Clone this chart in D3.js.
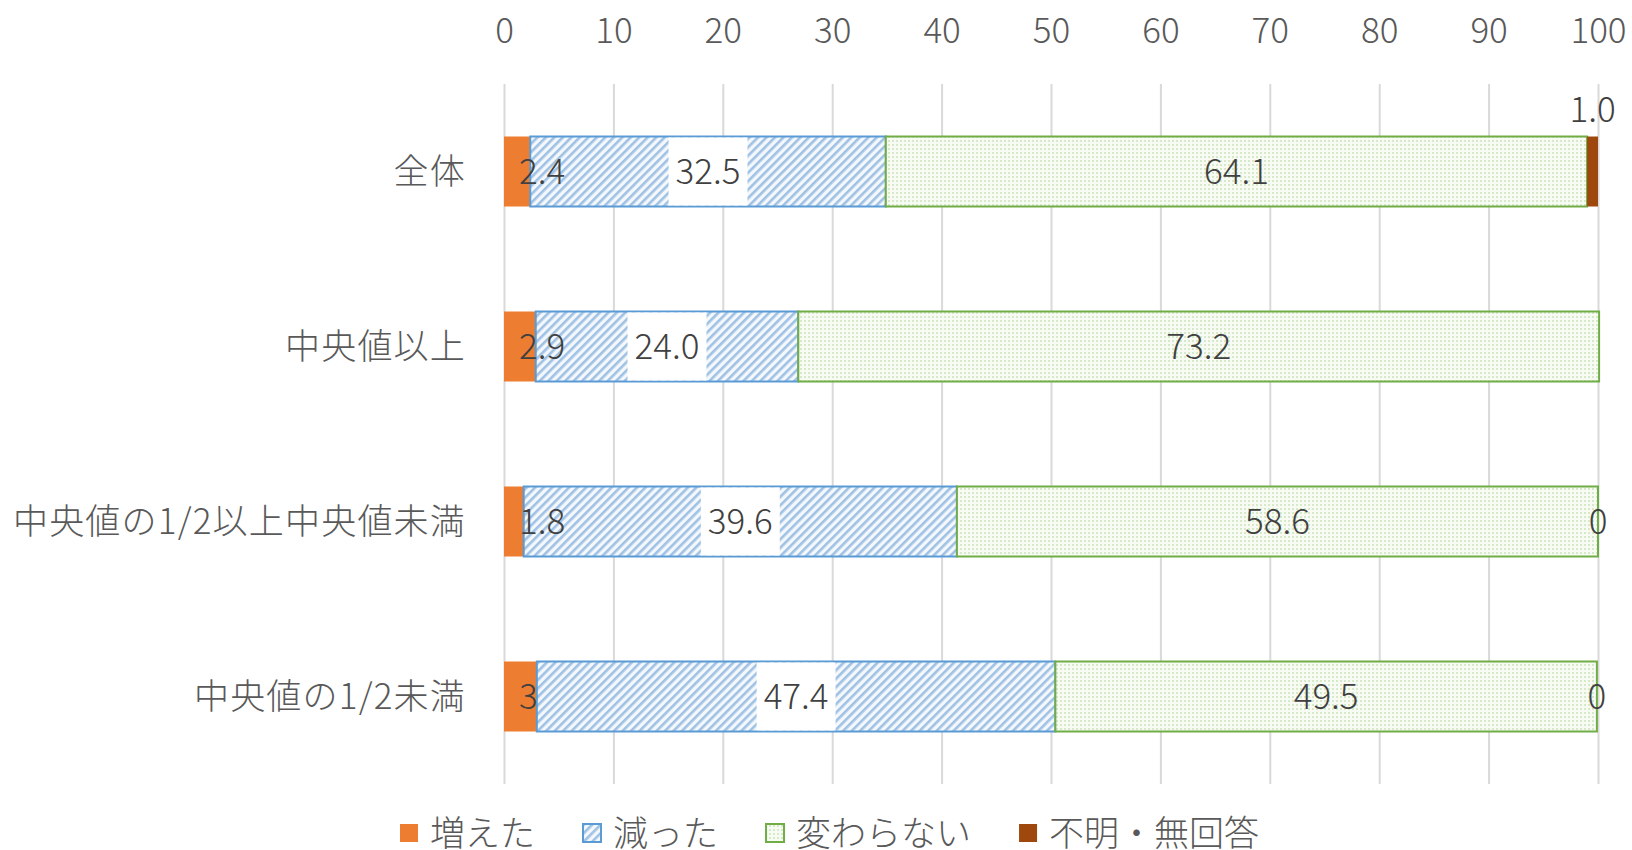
<!DOCTYPE html>
<html>
<head>
<meta charset="utf-8">
<script src="https://cdn.jsdelivr.net/npm/d3@7"></script>
<style>
  body { margin: 0; background: #fff; }
  svg { display: block; font-family: "Noto Sans CJK JP", "Noto Sans", sans-serif; font-weight: 300; }
</style>
</head>
<body>
<svg width="1632" height="850"></svg>
<script>
const categories = ['全体', '中央値以上', '中央値の1/2以上中央値未満', '中央値の1/2未満'];
const seriesNames = ['増えた', '減った', '変わらない', '不明・無回答'];
const increased = [2.4, 2.9, 1.8, 3];
const decreased = [32.5, 24.0, 39.6, 47.4];
const unchanged = [64.1, 73.2, 58.6, 49.5];
const unknown = [1.0, null, 0, 0];
const increasedLabels = ['2.4', '2.9', '1.8', '3'];
const decreasedLabels = ['32.5', '24.0', '39.6', '47.4'];
const unchangedLabels = ['64.1', '73.2', '58.6', '49.5'];
const unknownLabels = ['1.0', null, '0', '0'];
const xTicks = [0, 10, 20, 30, 40, 50, 60, 70, 80, 90, 100];

const margin = { left: 504, right: 34, top: 84, bottom: 66 };
const svg = d3.select('svg');
const width = +svg.attr('width');
const height = +svg.attr('height');
const innerWidth = width - margin.left - margin.right;
const innerHeight = height - margin.top - margin.bottom;

// patterns for the hatched / dotted series
const defs = svg.append('defs');
const hatch = defs.append('pattern')
    .attr('id', 'hatch')
    .attr('patternUnits', 'userSpaceOnUse')
    .attr('width', 6).attr('height', 6)
    .attr('patternTransform', 'rotate(45)');
hatch.append('rect').attr('width', 6).attr('height', 6).attr('fill', '#f4f8fc');
hatch.append('rect').attr('width', 2.6).attr('height', 6).attr('fill', '#9fc1e4');

const dots = defs.append('pattern')
    .attr('id', 'dots')
    .attr('patternUnits', 'userSpaceOnUse')
    .attr('width', 4).attr('height', 4);
dots.append('rect').attr('width', 4).attr('height', 4).attr('fill', '#f7fbf4');
dots.append('rect').attr('width', 2).attr('height', 2).attr('fill', '#d6e9c9');

const styles = [
  { fill: '#ed7d31', stroke: 'none' },
  { fill: 'url(#hatch)', stroke: '#5b9bd5' },
  { fill: 'url(#dots)', stroke: '#70ad47' },
  { fill: '#9e480e', stroke: 'none' }
];

const g = svg.append('g')
    .attr('transform', `translate(${margin.left}, ${margin.top})`);

const xScale = d3.scaleLinear().domain([0, 100]).range([0, innerWidth]);
const yScale = d3.scaleBand()
    .domain(categories)
    .range([0, innerHeight])
    .paddingInner(0.6)
    .paddingOuter(0.3);

// grid + top tick labels
const xAxisG = g.append('g').call(
  d3.axisTop(xScale).tickValues(xTicks).tickSize(-innerHeight).tickPadding(41)
);
xAxisG.select('.domain').remove();
xAxisG.selectAll('line').attr('stroke', '#d9d9d9').attr('stroke-width', 2);
xAxisG.selectAll('text')
    .attr('fill', '#595959')
    .style('font-size', '35px')
    .style('font-family', '"Noto Sans CJK JP", sans-serif');

// category labels
const yAxisG = g.append('g').call(d3.axisLeft(yScale).tickSize(0).tickPadding(38));
yAxisG.select('.domain').remove();
yAxisG.selectAll('text')
    .attr('fill', '#595959')
    .attr('dy', '0.36em')
    .style('letter-spacing', '1.2px')
    .style('font-size', '35px')
    .style('font-family', '"Noto Sans CJK JP", sans-serif');

const rows = categories.map((c, i) => ({
  cat: c,
  s0: increased[i], s1: decreased[i], s2: unchanged[i], s3: unknown[i] || 0
}));
const keys = ['s0', 's1', 's2', 's3'];
const stacked = d3.stack().keys(keys)(rows);
const labelSets = [increasedLabels, decreasedLabels, unchangedLabels, unknownLabels];

const layers = g.selectAll('g.layer').data(stacked)
  .enter().append('g')
    .attr('class', 'layer');

layers.each(function (layer, k) {
  d3.select(this).selectAll('rect')
    .data(layer.filter(d => d[1] - d[0] > 0))
    .enter().append('rect')
      .attr('x', d => xScale(d[0]))
      .attr('y', d => yScale(d.data.cat))
      .attr('width', d => xScale(d[1]) - xScale(d[0]))
      .attr('height', yScale.bandwidth())
      .attr('fill', styles[k].fill)
      .attr('stroke', styles[k].stroke)
      .attr('stroke-width', 2);
});

// data labels
const lbl = g.append('g')
    .style('font-size', '35px')
    .attr('fill', '#404040');
const bw = yScale.bandwidth();

stacked.forEach((layer, k) => {
  layer.forEach((d, i) => {
    const text = labelSets[k][i];
    if (text == null) return;
    const yc = yScale(d.data.cat) + bw / 2;
    if (k === 0) {
      lbl.append('text')
        .attr('x', xScale(d[0]) + 15)
        .attr('y', yc)
        .attr('dy', '0.36em')
        .text(text);
    } else if (k === 1) {
      const xc = xScale((d[0] + d[1]) / 2);
      const t = lbl.append('text')
        .attr('x', xc)
        .attr('y', yc)
        .attr('dy', '0.36em')
        .attr('text-anchor', 'middle')
        .text(text);
      const w = t.node().getComputedTextLength();
      lbl.insert('rect', () => t.node())
        .attr('x', xc - w / 2 - 7)
        .attr('y', yScale(d.data.cat) + 1)
        .attr('width', w + 14)
        .attr('height', bw - 2)
        .attr('fill', '#fff');
    } else if (k === 2) {
      lbl.append('text')
        .attr('x', xScale((d[0] + d[1]) / 2))
        .attr('y', yc)
        .attr('dy', '0.36em')
        .attr('text-anchor', 'middle')
        .text(text);
    } else {
      const above = d[1] - d[0] > 0;
      lbl.append('text')
        .attr('x', xScale((d[0] + d[1]) / 2))
        .attr('y', above ? yScale(d.data.cat) - 27 : yc)
        .attr('dy', '0.36em')
        .attr('text-anchor', 'middle')
        .text(text);
    }
  });
});

// legend
const legend = svg.append('g')
    .attr('transform', 'translate(399, 833)');
let lx = 0;
seriesNames.forEach((name, k) => {
  const item = legend.append('g').attr('transform', `translate(${lx}, 0)`);
  item.append('rect')
    .attr('x', 1).attr('y', -9)
    .attr('width', 18).attr('height', 18)
    .attr('fill', styles[k].fill)
    .attr('stroke', styles[k].stroke)
    .attr('stroke-width', 2);
  const t = item.append('text')
    .attr('x', 31)
    .attr('dy', '0.36em')
    .attr('fill', '#595959')
    .style('font-size', '35px')
    .text(name);
  lx += 31 + t.node().getComputedTextLength() + 47;
});
</script>
</body>
</html>
